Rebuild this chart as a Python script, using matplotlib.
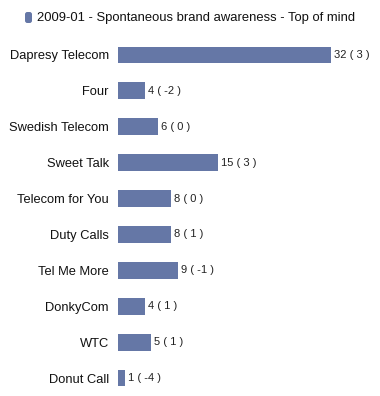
import matplotlib
matplotlib.use('Agg')
import matplotlib.pyplot as plt
from matplotlib.patches import FancyBboxPatch

brands = ['Dapresy Telecom', 'Four', 'Swedish Telecom', 'Sweet Talk', 'Telecom for You',
          'Duty Calls', 'Tel Me More', 'DonkyCom', 'WTC', 'Donut Call']
values = [32, 4, 6, 15, 8, 8, 9, 4, 5, 1]
changes = [3, -2, 0, 3, 0, 1, -1, 1, 1, -4]
title = '2009-01 - Spontaneous brand awareness - Top of mind'

bar_color = '#6577a6'

plt.rcParams['font.family'] = ['Liberation Sans', 'DejaVu Sans']

fig = plt.figure(figsize=(3.8, 3.96), dpi=100)
ax = fig.add_axes([118 / 380, 0.0, 252 / 380, 359 / 396])

ypos = list(range(len(brands)))
ax.barh(ypos, values, height=0.47, color=bar_color, edgecolor='none')
ax.set_xlim(0, 252 / (213 / 32))
ax.set_ylim(len(brands) - 0.5, -0.5)

for y, v, c in zip(ypos, values, changes):
    ax.annotate('%d ( %d )' % (v, c), xy=(v, y), xytext=(2.2, 0), textcoords='offset points',
                va='center', ha='left', fontsize=8, color='#222222')

ax.set_yticks(ypos)
ax.set_yticklabels(brands, fontsize=9.3, color='#111111')
ax.tick_params(axis='y', length=0, pad=6.5)
ax.set_xticks([])
for s in ax.spines.values():
    s.set_visible(False)

# legend
fig.patches.append(FancyBboxPatch((25 / 380, 1 - 23 / 396), 7 / 380, 11 / 396,
                                  boxstyle='round,pad=0,rounding_size=0.006',
                                  transform=fig.transFigure, facecolor=bar_color,
                                  edgecolor='none'))
fig.text(37 / 380, 1 - 17.5 / 396, title, fontsize=9.4, va='center', ha='left', color='#111111')

fig.savefig('out.png', dpi=100)
